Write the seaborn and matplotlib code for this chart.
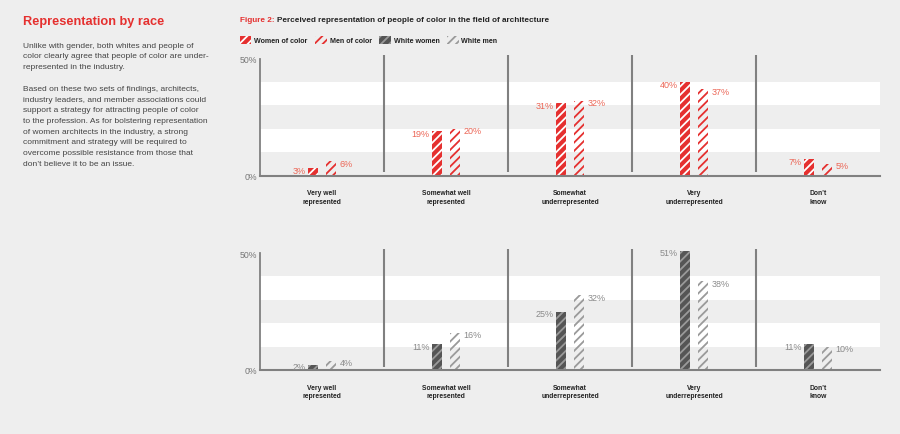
import numpy as np
import pandas as pd
import matplotlib.pyplot as plt
import seaborn as sns
from matplotlib.patches import Patch
from matplotlib.text import Annotation

# ===== 数据 =====
categories = ["Very well\nrepresented", "Somewhat well\nrepresented",
              "Somewhat\nunderrepresented", "Very\nunderrepresented", "Don\u2019t\nknow"]
poc_women = [3, 19, 31, 40, 7]
poc_men = [6, 20, 32, 37, 5]
white_women = [2, 11, 25, 51, 11]
white_men = [4, 16, 32, 38, 10]

# ===== 风格 =====
BG = '#eeeeee'
C_RED = '#e5302f'
C_RED_TXT = '#ec6656'
C_DARK = '#555555'
C_HATCH_GRAY = '#9a9a9a'
C_GRAY_TXT = '#8a8a8a'
C_LINE = '#808080'

sns.set_theme(style='white')
plt.rcParams['font.family'] = ['Liberation Sans', 'DejaVu Sans']
plt.rcParams['hatch.linewidth'] = 1.3

W, H = 900, 435
def fx(px):
    return px / W
def fy(py):
    return 1 - py / H

fig = plt.figure(figsize=(9, 4.35), dpi=100, facecolor=BG)

# ===== 左侧文字 =====
fig.text(fx(23), fy(22), 'Representation by race', color=C_RED, fontsize=9.2,
         fontweight='bold', va='center', ha='left')
p1 = ("Unlike with gender, both whites and people of\n"
      "color clearly agree that people of color are under-\n"
      "represented in the industry.")
p2 = ("Based on these two sets of findings, architects,\n"
      "industry leaders, and member associations could\n"
      "support a strategy for attracting people of color\n"
      "to the profession. As for bolstering representation\n"
      "of women architects in the industry, a strong\n"
      "commitment and strategy will be required to\n"
      "overcome possible resistance from those that\n"
      "don\u2019t believe it to be an issue.")
fig.text(fx(23), fy(42.5), p1, color='#444444', fontsize=6.0, va='top', ha='left',
         linespacing=1.73)
fig.text(fx(23), fy(86), p2, color='#444444', fontsize=6.0, va='top', ha='left',
         linespacing=1.73)

# ===== 图标题 =====
t1 = fig.text(fx(240), fy(20), 'Figure 2: ', color=C_RED, fontsize=5.9,
              fontweight='bold', va='center', ha='left')
t2 = Annotation('Perceived representation of people of color in the field of architecture',
                xy=(1, 0.5), xycoords=t1, va='center', ha='left', fontsize=5.9,
                fontweight='bold', color='#222222')
fig.add_artist(t2)

# ===== 面板 =====
styles_top = [dict(fc=C_RED, ec='white'), dict(fc='none', ec=C_RED)]
styles_bot = [dict(fc=C_DARK, ec=C_HATCH_GRAY), dict(fc='none', ec=C_HATCH_GRAY)]

panels = [
    (176.5, ['Women of color', 'Men of color'], [poc_women, poc_men], styles_top, C_RED_TXT),
    (371.0, ['White women', 'White men'], [white_women, white_men], styles_bot, C_GRAY_TXT),
]

px_per_pct = 2.34
ytop = 52
for base_px, groups, vals, styles, txt_color in panels:
    ax = fig.add_axes([fx(260), fy(base_px), fx(880) - fx(260), ytop * px_per_pct / H])
    ax.set_facecolor('none')
    df = pd.DataFrame({
        'cat': categories * 2,
        'grp': [groups[0]] * len(categories) + [groups[1]] * len(categories),
        'val': vals[0] + vals[1],
    })
    sns.barplot(data=df, x='cat', y='val', hue='grp', order=categories,
                hue_order=groups, width=0.276, gap=0.42, legend=False, ax=ax,
                errorbar=None)
    for k, (cont, st) in enumerate(zip(ax.containers, styles)):
        for bar in cont:
            bar.set_facecolor(st['fc'])
            bar.set_edgecolor(st['ec'])
            bar.set_hatch('////')
            bar.set_linewidth(0)
            bar.set_zorder(3)
            v = bar.get_height()
            ylab = max(v - 0.9, 1.6)
            if k == 0:
                ax.annotate(f'{v:.0f}%', xy=(bar.get_x(), ylab), xytext=(-2, 0),
                            textcoords='offset points', ha='right', va='center',
                            fontsize=6.5, color=txt_color, zorder=6)
            else:
                ax.annotate(f'{v:.0f}%', xy=(bar.get_x() + bar.get_width(), ylab),
                            xytext=(3, 0), textcoords='offset points',
                            ha='left', va='center', fontsize=6.5, color=txt_color,
                            zorder=6)

    # 白色条带
    for lo, hi in [(10, 20), (30, 40)]:
        ax.axhspan(lo, hi, color='white', zorder=0, lw=0)
    # 分隔线
    ax.vlines([0.5, 1.5, 2.5, 3.5], 1.3, 51.5, color=C_LINE, lw=1.5, zorder=2)

    ax.set_xlim(-0.5, 4.5)
    ax.set_ylim(0, ytop)
    ax.set_xlabel('')
    ax.set_ylabel('')
    ax.set_yticks([0, 50], ['0%', '50%'])
    ax.tick_params(axis='y', length=0, pad=2, labelsize=6.3, labelcolor='#777777')
    ax.tick_params(axis='x', length=0, pad=10)
    for lab in ax.get_xticklabels():
        lab.set_fontsize(4.9)
        lab.set_fontweight('bold')
        lab.set_color('#222222')
        lab.set_linespacing(1.3)
    for s in ['top', 'right']:
        ax.spines[s].set_visible(False)
    ax.spines['left'].set_bounds(0, 50)
    ax.spines['left'].set_color(C_LINE)
    ax.spines['left'].set_linewidth(1.3)
    ax.spines['bottom'].set_color(C_LINE)
    ax.spines['bottom'].set_linewidth(1.5)
    ax.spines['bottom'].set_zorder(4)
    ax.grid(False)

# ===== 图例 =====
handles = [
    Patch(facecolor=C_RED, edgecolor='white', hatch='////', linewidth=0, label='Women of color'),
    Patch(facecolor='none', edgecolor=C_RED, hatch='////', linewidth=0, label='Men of color'),
    Patch(facecolor=C_DARK, edgecolor=C_HATCH_GRAY, hatch='////', linewidth=0, label='White women'),
    Patch(facecolor='none', edgecolor=C_HATCH_GRAY, hatch='////', linewidth=0, label='White men'),
]
fig.legend(handles=handles, loc='center left', bbox_to_anchor=(fx(240), fy(41)),
           ncol=4, frameon=False, prop={'size': 5.1, 'weight': 'bold'},
           handlelength=1.6, handleheight=1.4, columnspacing=1.1, handletextpad=0.4,
           borderpad=0, borderaxespad=0, labelcolor='#222222')

fig.savefig('out.png', dpi=100, facecolor=BG)
